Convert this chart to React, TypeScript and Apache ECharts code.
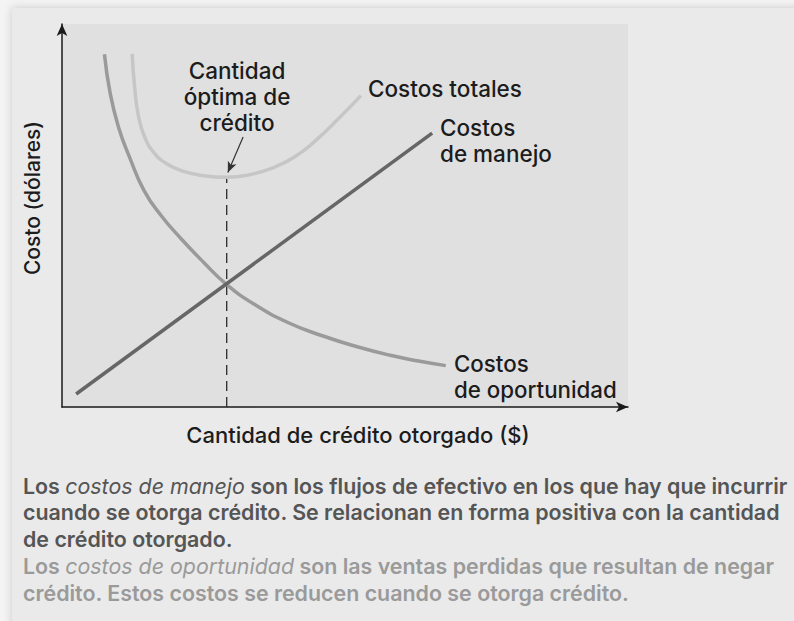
import React, { useEffect, useRef } from "react";
import * as echarts from "echarts";

// Data (x: credit granted, y: cost), arbitrary 0-100 units
const manejoData: number[][] = [
  [2.5, 3.4],
  [65.4, 71.5],
];
const oportunidadData: number[][] = [
  [7.5, 92.1], [8.5, 82.0], [10, 73.0], [12, 65.0], [14.5, 56.5], [17.5, 50.0],
  [21, 44.0], [25, 37.8], [29, 32.1], [34, 26.8], [40, 22.0], [46, 18.6],
  [52, 15.8], [58, 13.5], [63, 12.0], [67.8, 10.8],
];
const totalesData: number[][] = [
  [12.4, 92.2], [12.8, 84.0], [13.5, 76.0], [14.6, 70.5], [16.2, 66.5], [18.5, 63.5],
  [21.5, 61.5], [25, 60.4], [29.1, 60.0], [33, 60.6], [37, 62.3], [41, 65.2],
  [45, 69.8], [49, 75.5], [52.8, 81.3],
];
const optimoX = 29.1;
const optimoY = 60.0;
const arrowFrom = [32.0, 70.5];
const arrowTo = [29.3, 61.2];

const labelOptimo = "Cantidad\nóptima de\ncrédito";
const labelTotales = "Costos totales";
const labelManejo = "Costos\nde manejo";
const labelOportunidad = "Costos\nde oportunidad";
const xAxisTitle = "Cantidad de crédito otorgado ($)";
const yAxisTitle = "Costo (dólares)";

const FONT = "Inter, 'Liberation Sans', Arial, sans-serif";

export default function App() {
  const ref = useRef<HTMLDivElement>(null);
  useEffect(() => {
    if (!ref.current) return;
    const chart = echarts.init(ref.current, null, { renderer: "svg" });
    const label = (text: string, x: number, y: number, align: string, size: number) => ({
      type: "text",
      x,
      y,
      style: {
        text,
        fill: "#1c1c1c",
        font: `500 ${size}px ${FONT}`,
        textAlign: align,
        textVerticalAlign: "middle",
        lineHeight: 26,
      },
    });
    const PS = 21.4;
    const para = (text: string, y: number, color: string) => ({
      type: "text",
      x: 23,
      y,
      style: {
        text,
        fill: color,
        font: `600 ${PS}px ${FONT}`,
        textVerticalAlign: "middle",
        rich: {
          b: { fontFamily: FONT, fontSize: PS, fontWeight: 600, fill: color },
          i: { fontFamily: FONT, fontSize: PS, fontWeight: 400, fontStyle: "italic", fill: color },
        },
      },
    });
    const dark = "#555555";
    const light = "#9a9a9a";
    const axisCommon = {
      type: "value",
      min: 0,
      max: 100,
      axisLine: {
        show: true,
        onZero: false,
        symbol: ["none", "arrow"],
        symbolSize: [8, 12],
        lineStyle: { color: "#1a1a1a", width: 1.5 },
      },
      axisTick: { show: false },
      axisLabel: { show: false },
      splitLine: { show: false },
    };
    chart.setOption({
      animation: false,
      backgroundColor: "#f4f4f4",
      grid: {
        left: 62,
        top: 24,
        width: 566,
        height: 383,
        show: true,
        backgroundColor: "#e0e0e0",
        borderWidth: 0,
      },
      xAxis: axisCommon,
      yAxis: axisCommon,
      series: [
        {
          type: "line",
          name: "optimo",
          data: [
            [optimoX, 0],
            [optimoX, optimoY],
          ],
          symbol: "none",
          lineStyle: { color: "#2a2a2a", width: 1.3, type: [10, 6] },
          z: 1,
          markLine: {
            silent: true,
            symbol: ["none", "arrow"],
            symbolSize: [7, 11],
            label: { show: false },
            lineStyle: { color: "#333", width: 1.2, type: "solid", curveness: -0.15 },
            data: [[{ coord: arrowFrom }, { coord: arrowTo }]],
          },
        },
        {
          type: "line",
          name: "Costos de oportunidad",
          data: oportunidadData,
          symbol: "none",
          smooth: 0.5,
          lineStyle: { color: "#9a9a9a", width: 3.5 },
          z: 2,
        },
        {
          type: "line",
          name: "Costos totales",
          data: totalesData,
          symbol: "none",
          smooth: 0.5,
          lineStyle: { color: "#c6c6c6", width: 3.5 },
          z: 2,
        },
        {
          type: "line",
          name: "Costos de manejo",
          data: manejoData,
          symbol: "none",
          lineStyle: { color: "#666666", width: 3.5 },
          z: 3,
        },
      ],
      graphic: [
        {
          type: "rect",
          z: -100,
          shape: { x: 12, y: 8, width: 800, height: 640 },
          style: { fill: "#eaeaea", shadowBlur: 8, shadowColor: "rgba(0,0,0,0.18)" },
        },
        label(labelOptimo, 237, 96, "center", 22.5),
        label(labelTotales, 368, 88, "left", 22.5),
        label(labelManejo, 440, 140, "left", 22.5),
        label(labelOportunidad, 454, 376, "left", 22.3),
        label(xAxisTitle, 358, 435, "center", 22),
        {
          type: "text",
          x: 32,
          y: 198,
          rotation: Math.PI / 2,
          style: {
            text: yAxisTitle,
            fill: "#1c1c1c",
            font: `500 21px ${FONT}`,
            textAlign: "center",
            textVerticalAlign: "middle",
          },
        },
        para("{b|Los }{i|costos de manejo}{b| son los flujos de efectivo en los que hay que incurrir}", 486, dark),
        para("{b|cuando se otorga crédito. Se relacionan en forma positiva con la cantidad}", 512, dark),
        para("{b|de crédito otorgado.}", 539, dark),
        para("{b|Los }{i|costos de oportunidad}{b| son las ventas perdidas que resultan de negar}", 566, light),
        para("{b|crédito. Estos costos se reducen cuando se otorga crédito.}", 593, light),
      ],
    });
    return () => chart.dispose();
  }, []);
  return (
    <div
      ref={ref}
      style={{ position: "fixed", left: 0, top: 0, width: 794, height: 621 }}
    />
  );
}
